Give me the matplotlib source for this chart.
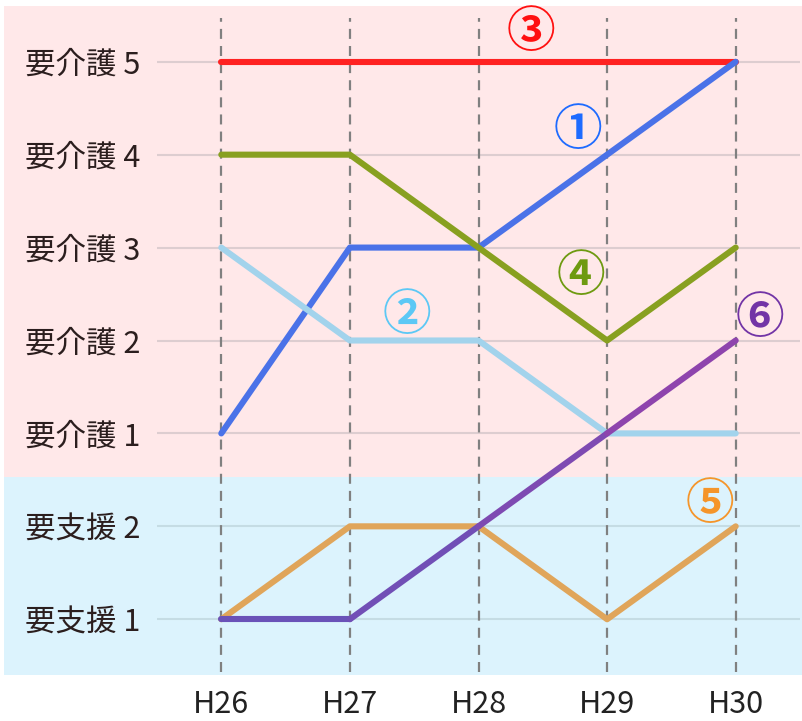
import matplotlib
matplotlib.use("Agg")
import matplotlib.pyplot as plt
import numpy as np
from matplotlib.collections import LineCollection
from matplotlib.patches import Rectangle
from matplotlib.colors import to_rgb
import matplotlib.transforms as mtrans

plt.rcParams['font.family'] = ['Noto Sans CJK JP', 'DejaVu Sans']

# ---- data ----
years = ["H26", "H27", "H28", "H29", "H30"]
levels = ["要支援 1", "要支援 2", "要介護 1", "要介護 2", "要介護 3", "要介護 4", "要介護 5"]

s3 = [6, 6, 6, 6, 6]   # ③
s1 = [2, 4, 4, 5, 6]   # ①
s4 = [5, 5, 4, 3, 4]   # ④
s2 = [4, 3, 3, 2, 2]   # ②
s5 = [0, 1, 1, 0, 1]   # ⑤
s6 = [0, 0, 1, 2, 3]   # ⑥

series_names = ["③", "①", "④", "②", "⑤", "⑥"]

# ---- figure ----
W, H = 802, 721
fig = plt.figure(figsize=(W / 100, H / 100), dpi=100)
ax_left, ax_right = 157 / W, 800 / W
ax_top, ax_bot = 1 - 6 / H, 1 - 675 / H
ax = fig.add_axes([ax_left, ax_bot, ax_right - ax_left, ax_top - ax_bot])
ax.set_zorder(2)
ax.set_xlim(-0.5, 4.5)
ax.set_ylim(-0.6, 6.6)
ax.set_facecolor('none')
for sp in ax.spines.values():
    sp.set_visible(False)

# background bands spanning the figure width
tr = mtrans.blended_transform_factory(fig.transFigure, ax.transData)
boundary = 1.53
fig.patches.append(Rectangle((4 / W, boundary), 1 - 4 / W, 6.6 - boundary,
                             transform=tr, facecolor='#FFE8E9', edgecolor='none', zorder=-5))
fig.patches.append(Rectangle((4 / W, -0.6), 1 - 4 / W, boundary + 0.6,
                             transform=tr, facecolor='#DCF3FD', edgecolor='none', zorder=-5))

x = np.arange(len(years))

# horizontal gridlines
for i in range(len(levels)):
    c = '#C5DCE4' if i < 2 else '#DDCDD0'
    ax.axhline(i, color=c, lw=1.5, zorder=1)

# vertical dashed lines
for xi in x:
    ax.plot([xi, xi], [-0.57, 6.47], color='#808080', lw=1.6,
            dashes=(4.5, 3.2), zorder=2)

lw = 4.4
ax.plot(x, s3, color='#FF2222', lw=lw, zorder=3, solid_capstyle='round')
ax.plot(x, s1, color='#4A72E8', lw=lw, zorder=3, solid_capstyle='round')
ax.plot(x, s4, color='#88A020', lw=lw, zorder=3, solid_capstyle='round')
ax.plot(x, s2, color='#A2D3EC', lw=lw, zorder=3, solid_capstyle='round')
ax.plot(x, s5, color='#E0A55A', lw=lw, zorder=3, solid_capstyle='round')

# ⑥ with a colour shift along its segments
c0, c1 = np.array(to_rgb('#6A52B8')), np.array(to_rgb('#8E44AD'))
pts = np.column_stack([x, s6])
segs = [pts[i:i + 2] for i in range(len(pts) - 1)]
n = len(segs)
cols = [c0 + (c1 - c0) * (i / (n - 1)) ** 1.5 for i in range(n)]
lc = LineCollection(segs, colors=cols, linewidths=lw, capstyle='round', zorder=4)
ax.add_collection(lc)

# labels
label_pos = [(2.41, 6.32), (2.77, 5.26), (2.80, 3.69), (1.44, 3.27), (3.80, 1.23), (4.19, 3.24)]
label_col = ['#FF1010', '#1E6BFF', '#6E9A10', '#5CC8F5', '#F5952A', '#7234A6']
for name, (lx, ly), c in zip(series_names, label_pos, label_col):
    ax.text(lx, ly, name, color=c, fontsize=35, ha='center', va='center',
            fontweight='bold', zorder=6)

ax.set_xticks(x)
ax.set_xticklabels(years, fontsize=22, color='#222222')
ax.set_yticks(range(len(levels)))
ax.set_yticklabels(levels, fontsize=22, color='#2B1E1E')
ax.tick_params(axis='both', length=0)
ax.tick_params(axis='y', pad=12)
ax.tick_params(axis='x', pad=10)

fig.savefig('out.png', dpi=100)
